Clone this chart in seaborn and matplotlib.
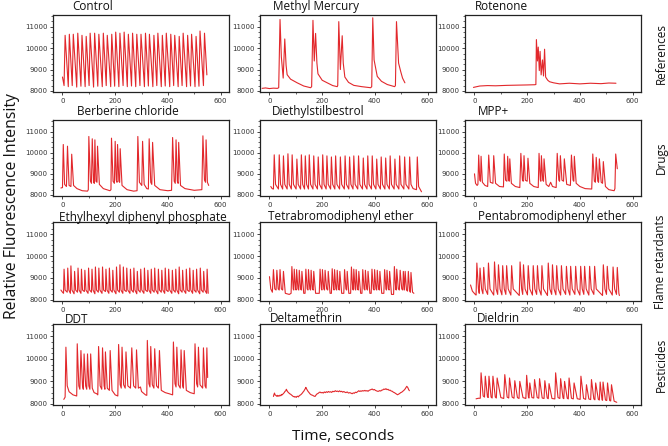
import matplotlib
matplotlib.use("Agg")
import pandas as pd
import matplotlib.pyplot as plt
import seaborn as sns
from matplotlib.ticker import MultipleLocator

# traces: (time s, fluorescence) vertices
control = [(0, 8650), (6, 8250), (10, 10600), (22, 8200), (26, 10650), (37, 8250), (41, 10650), (54, 8180),
           (58, 10700), (70, 8220), (74, 10600), (86, 8200), (90, 10550), (101, 8250), (105, 10700), (118, 8180),
           (122, 10700), (134, 8220), (138, 10650), (151, 8200), (155, 10700), (166, 8250), (170, 10600), (183, 8200),
           (187, 10650), (198, 8220), (202, 10750), (214, 8200), (218, 10700), (230, 8250), (234, 10750), (246, 8200),
           (250, 10650), (262, 8230), (266, 10700), (278, 8200), (282, 10650), (294, 8250), (298, 10650), (311, 8200),
           (315, 10700), (326, 8230), (330, 10650), (343, 8200), (347, 10600), (358, 8250), (362, 10700), (375, 8200),
           (379, 10600), (390, 8230), (394, 10700), (407, 8200), (411, 10650), (422, 8250), (426, 10600), (439, 8200),
           (443, 10550), (454, 8250), (458, 10700), (471, 8200), (475, 10600), (486, 8230), (490, 10650), (503, 8200),
           (507, 10550), (518, 8220), (522, 10800), (535, 8250), (539, 10700), (548, 8750)]

methyl_mercury = [(-28, 8120), (-15, 8140), (0, 8110), (15, 8130), (30, 8120), (35, 8150), (40, 11340), (45, 9600),
                  (52, 8600), (58, 10430), (63, 9200), (67, 8760), (80, 8550), (105, 8380), (130, 8230), (156, 8150),
                  (160, 8200), (165, 11300), (170, 9400), (175, 10690), (180, 9300), (184, 8800), (200, 8500),
                  (219, 8380), (240, 8250), (257, 8200), (259, 8250), (263, 11240), (269, 9000), (276, 10580),
                  (280, 9300), (286, 8650), (300, 8400), (320, 8260), (350, 8200), (384, 8150), (388, 8200),
                  (392, 11420), (397, 9450), (409, 8680), (425, 8450), (447, 8300), (475, 8200), (478, 8250),
                  (482, 11240), (490, 9300), (498, 8910), (505, 8600), (514, 8380)]

rotenone = [(-4, 8165), (20, 8230), (50, 8250), (80, 8240), (122, 8260), (160, 8270), (200, 8280), (229, 8290),
            (233, 8300), (235, 10400), (239, 9400), (242, 10050), (246, 8950), (249, 9850), (253, 8750), (258, 9450),
            (262, 8700), (266, 9950), (270, 8650), (278, 8500), (285, 8430), (300, 8380), (323, 8330), (360, 8360),
            (400, 8330), (440, 8360), (480, 8340), (510, 8370), (537, 8360)]

berberine = [(-6, 8330), (0, 8350), (3, 10390), (8, 8500), (15, 8400), (19, 10310), (25, 8450), (32, 8400),
             (35, 9930), (42, 8450), (55, 8300), (75, 8200), (95, 8180), (98, 8250), (100, 10770), (106, 8650),
             (110, 8550), (113, 10660), (118, 8600), (121, 8550), (123, 10610), (127, 8650), (131, 8600),
             (133, 10310), (140, 8500), (155, 8300), (180, 8200), (184, 8250), (186, 10690), (192, 8650),
             (197, 8550), (200, 10540), (204, 8700), (207, 8600), (209, 10390), (214, 8650), (217, 8600),
             (219, 10190), (226, 8450), (245, 8250), (270, 8180), (283, 8200), (286, 10770), (292, 8600),
             (301, 8450), (304, 10540), (310, 8500), (320, 8300), (326, 8280), (329, 10660), (335, 8600),
             (339, 8500), (342, 10490), (350, 8450), (370, 8250), (400, 8200), (414, 8220), (418, 10720),
             (424, 8650), (428, 8550), (431, 10610), (436, 8650), (439, 8550), (441, 10490), (448, 8450),
             (465, 8300), (500, 8220), (529, 8250), (533, 10800), (539, 8700), (543, 8600), (545, 10610),
             (550, 8600), (555, 8450)]

diethylstilbestrol = [(5, 8400), (10, 8300), (15, 8280), (18, 9900), (23, 8500), (34, 8280), (37, 9900), (42, 8500),
                      (50, 8280), (53, 9850), (58, 8500), (67, 8280), (70, 9950), (75, 8500), (83, 8280), (86, 9900),
                      (91, 8500), (101, 8280), (104, 9700), (109, 8500), (118, 8280), (121, 9900), (126, 8500),
                      (133, 8280), (136, 9850), (141, 8500), (148, 8280), (151, 9900), (156, 8500), (165, 8280),
                      (168, 9850), (173, 8500), (182, 8280), (185, 9800), (190, 8500), (199, 8280), (202, 9900),
                      (207, 8500), (215, 8280), (218, 9850), (223, 8500), (232, 8280), (235, 9800), (240, 8500),
                      (248, 8280), (251, 9850), (256, 8500), (266, 8280), (269, 9800), (274, 8500), (284, 8280),
                      (287, 9850), (292, 8500), (301, 8280), (304, 9800), (309, 8500), (317, 8280), (320, 9850),
                      (325, 8500), (335, 8280), (338, 9850), (343, 8500), (353, 8280), (356, 9750), (361, 8500),
                      (370, 8280), (373, 9850), (378, 8500), (387, 8280), (390, 9850), (395, 8500), (404, 8280),
                      (407, 9700), (412, 8500), (421, 8280), (424, 9800), (429, 8500), (438, 8280), (441, 9750),
                      (446, 8500), (455, 8280), (458, 9850), (463, 8500), (473, 8280), (476, 9700), (481, 8500),
                      (491, 8280), (494, 9850), (499, 8500), (510, 8280), (513, 9800), (518, 8500), (529, 8280),
                      (532, 9800), (537, 8500), (545, 8300), (558, 8250), (561, 9800), (566, 8400), (577, 8150)]

mpp = [(0, 9000), (4, 8550), (10, 8450), (13, 8500), (16, 9890), (20, 8700), (23, 8650), (25, 9830), (30, 8600),
       (40, 8450), (50, 8400), (54, 9890), (60, 8600), (70, 8550), (73, 9860), (80, 8550), (95, 8400), (110, 8380),
       (113, 9940), (118, 8700), (123, 8650), (126, 9830), (130, 8700), (132, 8650), (134, 9710), (140, 8550),
       (155, 8400), (172, 8350), (176, 9970), (182, 8700), (185, 8650), (188, 9860), (193, 8700), (200, 8650),
       (203, 9740), (210, 8550), (225, 8400), (242, 8350), (245, 9970), (250, 8700), (252, 8650), (254, 9860),
       (259, 8700), (262, 8650), (264, 9710), (272, 8500), (282, 8400), (289, 8600), (296, 8400), (310, 8350),
       (314, 9970), (320, 8700), (323, 8650), (326, 9860), (332, 8700), (338, 8650), (341, 9710), (350, 8500),
       (364, 8450), (368, 9890), (374, 8700), (377, 8650), (379, 9830), (386, 8550), (400, 8400), (420, 8300),
       (445, 8280), (449, 9940), (455, 8650), (459, 8600), (462, 9780), (468, 8650), (471, 8600), (474, 9710),
       (481, 8600), (486, 8550), (489, 9580), (497, 8400), (510, 8250), (530, 8200), (533, 8300), (536, 9940),
       (542, 9240)]

ethylhexyl = [(-6, 8450), (0, 8350), (4, 8300), (6, 9400), (10, 8450), (18, 8350), (20, 9450), (24, 8450), (30, 8300),
              (32, 9550), (36, 8450), (44, 8280), (46, 9300), (50, 8450), (57, 8350), (59, 9450), (63, 8450),
              (70, 8300), (72, 9400), (76, 8450), (83, 8380), (85, 9350), (89, 8450), (97, 8300), (99, 9450),
              (103, 8450), (110, 8350), (112, 9400), (116, 8450), (123, 8280), (125, 9500), (129, 8450), (136, 8350),
              (138, 9450), (142, 8450), (150, 8300), (152, 9500), (156, 8450), (163, 8380), (165, 9400), (169, 8450),
              (176, 8300), (178, 9450), (182, 8450), (189, 8350), (191, 9350), (195, 8450), (203, 8280), (205, 9500),
              (209, 8450), (216, 8350), (218, 9600), (222, 8450), (229, 8300), (231, 9500), (235, 8450), (242, 8380),
              (244, 9450), (248, 8450), (256, 8300), (258, 9400), (262, 8450), (269, 8350), (271, 9450), (275, 8450),
              (282, 8280), (284, 9300), (288, 8450), (295, 8350), (297, 9400), (301, 8450), (309, 8300), (311, 9450),
              (315, 8450), (322, 8380), (324, 9350), (328, 8450), (335, 8300), (337, 9400), (341, 8450), (348, 8350),
              (350, 9450), (354, 8450), (362, 8280), (364, 9400), (368, 8450), (375, 8350), (377, 9350), (381, 8450),
              (388, 8300), (390, 9450), (394, 8450), (401, 8380), (403, 9400), (407, 8450), (415, 8300), (417, 9350),
              (421, 8450), (428, 8350), (430, 9400), (434, 8450), (441, 8280), (443, 9500), (447, 8450), (454, 8350),
              (456, 9350), (460, 8450), (468, 8300), (470, 9400), (474, 8450), (481, 8380), (483, 9450), (487, 8450),
              (494, 8300), (496, 9350), (500, 8450), (507, 8350), (509, 9400), (513, 8450), (521, 8280), (523, 9450),
              (527, 8450), (534, 8350), (536, 9300), (540, 8450), (547, 8300), (549, 9400), (553, 8300)]

tetrabromo = [(0, 9060), (5, 8500), (11, 8350), (15, 9380), (20, 8500), (25, 8450), (28, 9350), (33, 8500),
              (37, 8450), (40, 9380), (45, 8500), (50, 8450), (53, 9300), (60, 8300), (75, 8250), (82, 8300),
              (85, 9520), (90, 8500), (92, 8450), (94, 9400), (99, 8500), (101, 8450), (103, 9380), (108, 8500),
              (111, 8450), (113, 9350), (118, 8500), (121, 8450), (123, 9300), (130, 8300), (135, 8300), (138, 9400),
              (143, 8500), (146, 8450), (148, 9380), (153, 8500), (156, 8450), (158, 9350), (163, 8500), (166, 8450),
              (168, 9300), (175, 8300), (189, 8300), (192, 9400), (197, 8500), (199, 8450), (201, 9380), (206, 8500),
              (209, 8450), (211, 9350), (217, 8500), (221, 8450), (223, 9300), (230, 8300), (235, 8300), (238, 9420),
              (243, 8500), (245, 8450), (247, 9380), (252, 8500), (255, 8450), (257, 9350), (262, 8500), (265, 8450),
              (267, 9300), (274, 8300), (282, 8300), (285, 9380), (290, 8500), (293, 8450), (295, 9300), (301, 8300),
              (308, 8300), (311, 9500), (316, 8500), (318, 8450), (320, 9400), (325, 8500), (327, 8450), (329, 9380),
              (334, 8500), (337, 8450), (339, 9300), (346, 8300), (351, 8300), (354, 9380), (359, 8500), (362, 8450),
              (364, 9350), (369, 8500), (372, 8450), (374, 9300), (381, 8300), (386, 8300), (389, 9400), (394, 8500),
              (397, 8450), (399, 9380), (404, 8500), (407, 8450), (409, 9350), (414, 8500), (417, 8450), (419, 9300),
              (426, 8300), (434, 8300), (437, 9380), (442, 8500), (444, 8450), (446, 9350), (451, 8500), (454, 8450),
              (456, 9300), (463, 8250), (471, 8250), (474, 9520), (479, 8500), (481, 8450), (483, 9400), (489, 8500),
              (493, 8450), (496, 9350), (502, 8500), (506, 8450), (508, 9300), (512, 8450), (515, 9300), (520, 8450),
              (524, 8400), (527, 9300), (532, 8400), (535, 8350), (537, 9250), (543, 8350), (548, 8300)]

pentabromo = [(-15, 8680), (-8, 8400), (3, 8250), (6, 8220), (9, 9680), (15, 8500), (18, 8300), (21, 9450), (27, 8500),
              (32, 8280), (35, 9480), (41, 8500), (50, 8250), (53, 9680), (59, 8500), (73, 8220), (76, 9730),
              (82, 8500), (88, 8250), (91, 9600), (97, 8500), (104, 8230), (107, 9560), (113, 8500), (119, 8250),
              (122, 9560), (128, 8500), (138, 8220), (141, 9560), (147, 8500), (170, 8200), (173, 9730), (179, 8500),
              (183, 8250), (186, 9600), (192, 8500), (201, 8230), (204, 9560), (210, 8500), (220, 8220), (223, 9560),
              (229, 8500), (236, 8250), (239, 9560), (245, 8500), (253, 8220), (256, 9560), (262, 8500), (277, 8200),
              (280, 9680), (286, 8500), (293, 8250), (296, 9600), (302, 8500), (309, 8230), (312, 9560), (318, 8500),
              (327, 8220), (330, 9560), (336, 8500), (346, 8250), (349, 9530), (355, 8500), (362, 8220), (365, 9530),
              (371, 8500), (381, 8250), (384, 9530), (390, 8500), (400, 8220), (403, 9530), (409, 8500), (415, 8250),
              (418, 9530), (424, 8500), (434, 8220), (437, 9530), (443, 8500), (453, 8250), (456, 9530), (462, 8500),
              (486, 8200), (489, 9600), (495, 8500), (501, 8250), (504, 9530), (510, 8500), (523, 8220), (526, 9500),
              (532, 8500), (539, 8250), (542, 9480), (548, 8300), (550, 8200)]

ddt = [(5, 8200), (10, 8300), (13, 10520), (18, 8800), (25, 8540), (40, 8400), (54, 8350), (56, 10670), (62, 8800),
       (66, 8650), (70, 10370), (76, 8800), (79, 8650), (82, 10220), (88, 8800), (92, 8650), (95, 10220), (100, 8800),
       (104, 8650), (107, 10220), (113, 8700), (120, 8500), (130, 8450), (134, 8400), (137, 10550), (143, 8800),
       (149, 8650), (152, 10490), (158, 8800), (161, 8650), (163, 10310), (170, 8700), (178, 8600), (181, 10370),
       (188, 8600), (200, 8400), (210, 8350), (213, 10640), (219, 8850), (223, 8700), (226, 10520), (232, 8850),
       (238, 8700), (241, 10310), (248, 8800), (258, 8700), (263, 10490), (270, 8800), (278, 8700), (281, 10400),
       (288, 8700), (296, 8750), (300, 8550), (315, 8400), (320, 8380), (322, 10820), (328, 8900), (332, 8750),
       (335, 10550), (341, 8850), (347, 8700), (350, 10450), (357, 8800), (364, 8700), (368, 10370), (375, 8600),
       (390, 8500), (405, 8450), (418, 8400), (421, 10750), (427, 8900), (431, 8750), (434, 10520), (440, 8850),
       (447, 8700), (450, 10400), (456, 8800), (459, 8700), (462, 10370), (470, 8600), (485, 8500), (500, 8450),
       (503, 10670), (509, 8900), (513, 8750), (516, 10520), (522, 8850), (532, 8700), (535, 10490), (541, 8800),
       (545, 8700), (548, 10490), (551, 9170)]

deltamethrin = [(15, 8330), (17, 8420), (19, 8480), (21, 8400), (24, 8380), (27, 8340), (30, 8380), (32, 8330),
                (35, 8370), (38, 8350), (40, 8390), (43, 8360), (46, 8420), (48, 8400), (51, 8440), (54, 8480),
                (56, 8500), (59, 8560), (62, 8580), (64, 8650), (66, 8600), (69, 8540), (72, 8500), (75, 8470),
                (78, 8440), (80, 8430), (83, 8400), (86, 8370), (88, 8350), (91, 8320), (94, 8330), (96, 8300),
                (99, 8320), (102, 8290), (104, 8330), (107, 8340), (110, 8310), (112, 8350), (115, 8380), (118, 8400),
                (120, 8420), (124, 8470), (127, 8520), (130, 8560), (133, 8620), (136, 8680), (138, 8735), (141, 8660),
                (144, 8600), (146, 8560), (150, 8500), (153, 8450), (155, 8430), (159, 8400), (162, 8390), (164, 8380),
                (168, 8350), (171, 8340), (173, 8330), (177, 8400), (180, 8440), (182, 8450), (186, 8480), (189, 8510),
                (192, 8525), (196, 8490), (200, 8510), (204, 8480), (208, 8530), (212, 8500), (216, 8540), (220, 8510),
                (224, 8550), (228, 8520), (232, 8540), (236, 8510), (240, 8560), (245, 8540), (250, 8585), (254, 8550),
                (258, 8570), (262, 8540), (266, 8580), (270, 8540), (274, 8560), (278, 8520), (282, 8550), (286, 8520),
                (290, 8500), (295, 8530), (300, 8480), (305, 8500), (310, 8470), (314, 8450), (318, 8490), (322, 8470),
                (326, 8520), (330, 8500), (335, 8550), (339, 8585), (343, 8550), (347, 8580), (350, 8560), (354, 8590),
                (358, 8570), (362, 8600), (366, 8570), (370, 8590), (374, 8560), (378, 8600), (382, 8620), (386, 8640),
                (390, 8660), (394, 8620), (398, 8640), (402, 8600), (406, 8580), (410, 8560), (414, 8560), (418, 8590),
                (422, 8570), (426, 8610), (430, 8620), (434, 8660), (438, 8640), (442, 8675), (446, 8630), (450, 8650),
                (454, 8600), (458, 8610), (462, 8570), (466, 8560), (470, 8520), (474, 8500), (478, 8470), (482, 8440),
                (486, 8405), (490, 8430), (494, 8460), (498, 8500), (502, 8520), (506, 8560), (510, 8600), (514, 8650),
                (518, 8720), (521, 8780), (524, 8740), (526, 8700), (528, 8640), (531, 8585)]

dieldrin = [(6, 8225), (15, 8250), (22, 8250), (25, 9380), (33, 8350), (38, 8300), (41, 9230), (49, 8320), (52, 8280),
            (55, 9230), (63, 8300), (67, 8260), (70, 9230), (79, 8300), (83, 8260), (86, 9150), (100, 8280), (111, 8240),
            (115, 9300), (124, 8300), (130, 8260), (133, 9150), (143, 8300), (150, 8250), (153, 9030), (163, 8280),
            (169, 8240), (172, 9000), (184, 8280), (195, 8240), (198, 9270), (205, 8280), (207, 8260), (210, 8930),
            (218, 8280), (225, 8260), (228, 9080), (238, 8280), (244, 8250), (247, 9120), (257, 8260), (264, 8240),
            (267, 9030), (276, 8260), (280, 8230), (283, 8900), (294, 8240), (305, 8220), (308, 9380), (317, 8280),
            (324, 8240), (327, 9120), (336, 8260), (339, 8230), (342, 9000), (352, 8250), (356, 8220), (359, 9150),
            (368, 8250), (375, 8220), (378, 8930), (390, 8230), (401, 8200), (404, 9230), (414, 8240), (422, 8200),
            (425, 8850), (434, 8220), (441, 8190), (444, 9080), (453, 8220), (457, 8180), (460, 8930), (470, 8200),
            (474, 8170), (477, 8970), (484, 8180), (486, 8160), (488, 8970), (497, 8170), (502, 8150), (505, 8930),
            (513, 8150), (517, 8130), (520, 8850), (530, 8120), (540, 8070)]

titles = ["Control", "Methyl Mercury", "Rotenone",
          "Berberine chloride", "Diethylstilbestrol", "MPP+",
          "Ethylhexyl diphenyl phosphate", "Tetrabromodiphenyl ether", "Pentabromodiphenyl ether",
          "DDT", "Deltamethrin", "Dieldrin"]
traces = [control, methyl_mercury, rotenone,
          berberine, diethylstilbestrol, mpp,
          ethylhexyl, tetrabromo, pentabromo,
          ddt, deltamethrin, dieldrin]
groups = ["References", "Drugs", "Flame retardants", "Pesticides"]

# layout (pixels of the 668x446 canvas)
W, H = 668, 446
col_left = [53, 260, 465]
col_w = 176
row_top = [15, 120, 222, 324]
row_bot = [92, 196, 301, 405]
title_dx = [19, 13, 10, 24, 12, 13, 6, 8, 13, 12, 10, 12]
title_dy = [5, 5, 5, 5, 5, 5, 1, 2, 2, 1, 2, 2]
RED = "#e2282c"

sns.set_style("white")
plt.rcParams["font.family"] = ["Open Sans", "DejaVu Sans"]

fig = plt.figure(figsize=(W / 100, H / 100), dpi=100)

for i, (name, pts) in enumerate(zip(titles, traces)):
    r, c = divmod(i, 3)
    ax = fig.add_axes([col_left[c] / W, 1 - row_bot[r] / H, col_w / W, (row_bot[r] - row_top[r]) / H])
    df = pd.DataFrame(pts, columns=["t", "v"])
    sns.lineplot(data=df, x="t", y="v", ax=ax, color=RED, linewidth=0.8, estimator=None, sort=False)
    ax.set_xlim(-36, 632)
    ax.set_ylim(7950, 11550)
    ax.set_xticks([0, 200, 400, 600])
    ax.set_yticks([8000, 9000, 10000, 11000])
    ax.xaxis.set_minor_locator(MultipleLocator(100))
    ax.yaxis.set_minor_locator(MultipleLocator(250))
    ax.tick_params(which="major", direction="out", length=2.5, width=0.6, labelsize=5,
                   labelcolor="#333333", pad=1.5, left=True, bottom=True)
    ax.tick_params(which="minor", direction="out", length=1.3, width=0.5, left=True, bottom=True)
    for lbl in ax.get_xticklabels() + ax.get_yticklabels():
        lbl.set_family("DejaVu Sans")
    for sp in ax.spines.values():
        sp.set_color("#222222")
        sp.set_linewidth(0.9)
    ax.set_xlabel("")
    ax.set_ylabel("")
    ax.annotate(name, xy=(0, 1), xycoords="axes fraction",
                xytext=(title_dx[i] * 0.72, title_dy[i] * 0.72), textcoords="offset points",
                ha="left", va="baseline", fontsize=8.5, color="#111111")

for r, g in enumerate(groups):
    yc = 1 - (row_top[r] + row_bot[r]) / 2 / H
    fig.text(661 / W, yc, g, rotation=90, ha="center", va="center", fontsize=8.5, color="#111111")

fig.text(12 / W, 1 - 206 / H, "Relative Fluorescence Intensity", rotation=90,
         ha="center", va="center", fontsize=11.3, color="#111111")
fig.text(343 / W, 1 - 437 / H, "Time, seconds", ha="center", va="center", fontsize=11.1, color="#111111")

fig.savefig("out.png", dpi=100)
